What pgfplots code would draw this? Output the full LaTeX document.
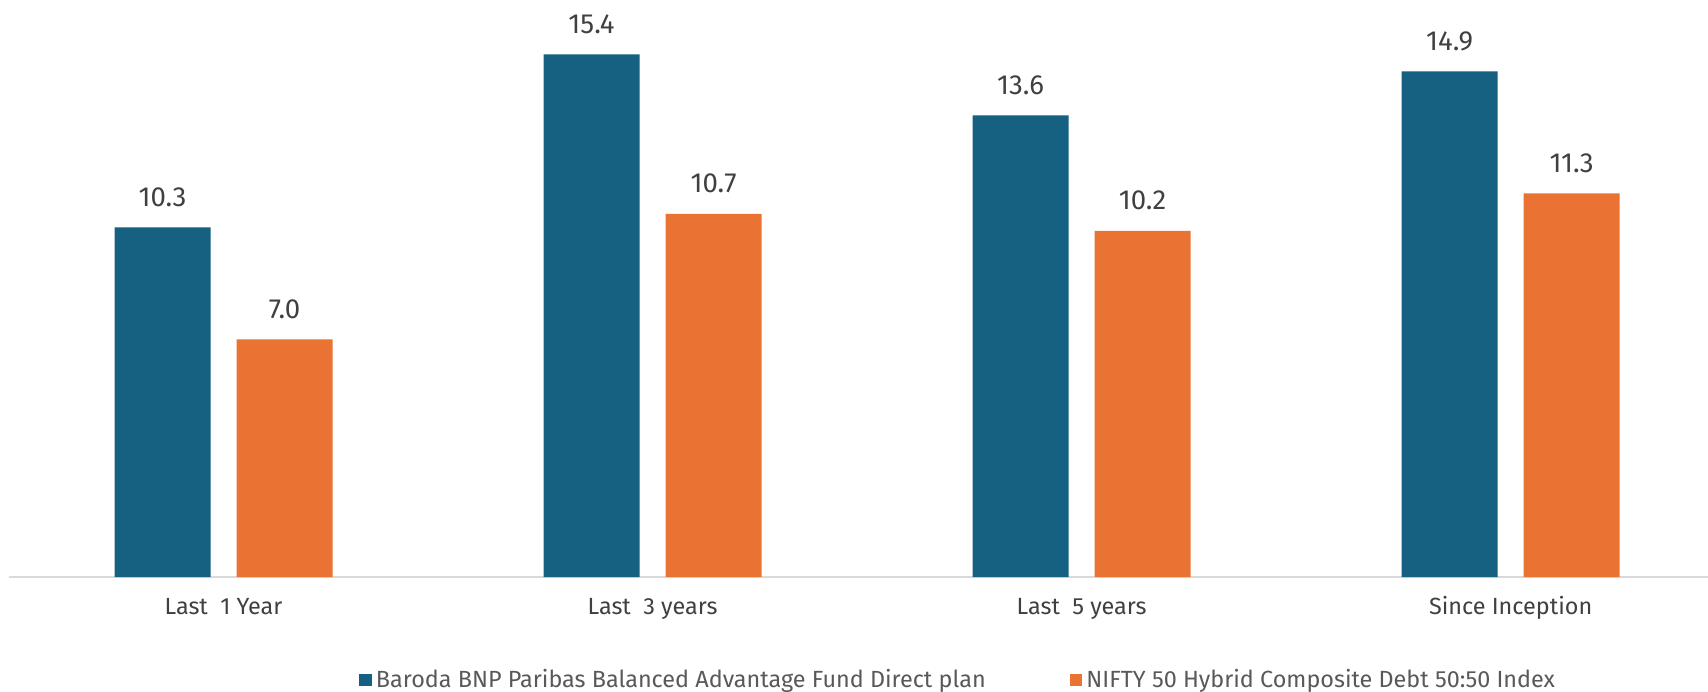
\documentclass[border=0pt]{standalone}
\usepackage{pgfplots}
\pgfplotsset{compat=1.18}
\usepackage{fontspec}
\setmainfont{Fira Sans}
\definecolor{blueC}{HTML}{166082}
\definecolor{orangeC}{HTML}{EA7233}
\definecolor{txtC}{HTML}{404040}
\definecolor{legC}{HTML}{595959}
\definecolor{axC}{HTML}{D9D9D9}
\begin{document}
\begin{tikzpicture}
\begin{axis}[
  scale only axis,
  width=849.5pt, height=288.5pt,
  xmin=-0.5, xmax=3.46, ymin=0, ymax=17,
  ybar=13pt, bar width=48pt,
  axis x line=bottom, axis y line=none,
  x axis line style={-, draw=axC, line width=1.2pt},
  xtick={0,1,2,3},
  xticklabels={Last\ \ 1 Year, Last\ \ 3 years, Last\ \ 5 years, Since Inception},
  major tick length=0pt,
  xticklabel style={font=\fontsize{11.7}{14}\selectfont, text=txtC, anchor=base, yshift=-18.5pt},
  ytick=\empty,
  nodes near coords,
  nodes near coords style={font=\fontsize{13.8}{16}\selectfont, text=txtC, anchor=base, yshift=10.5pt,
    /pgf/number format/.cd, fixed, fixed zerofill, precision=1, assume math mode=true},
  clip=false,
  legend columns=2,
  legend style={draw=none, fill=none, at={(0.5592,-0.1785)}, anchor=center,
    font=\fontsize{11.7}{14}\selectfont, text=legC,
    /tikz/every even column/.append style={column sep=40pt},
    nodes={inner xsep=2pt}},
]
\addplot[fill=blueC, draw=none,
  legend image code/.code={\fill[blueC] (0pt,-3.2pt) rectangle (6.4pt,3.2pt);}]
  coordinates {(0,10.3) (1,15.4) (2,13.6) (3,14.9)};
\addlegendentry{Baroda BNP Paribas Balanced Advantage Fund Direct plan}
\addplot[fill=orangeC, draw=none,
  legend image code/.code={\fill[orangeC] (0pt,-3.2pt) rectangle (6.4pt,3.2pt);}]
  coordinates {(0,7.0) (1,10.7) (2,10.2) (3,11.3)};
\addlegendentry{NIFTY 50 Hybrid Composite Debt 50:50 Index}
\end{axis}
\pgfresetboundingbox
\path ([xshift=-4.5pt,yshift=-57pt]current axis.south west) rectangle (current axis.north east);
\end{tikzpicture}
\end{document}
